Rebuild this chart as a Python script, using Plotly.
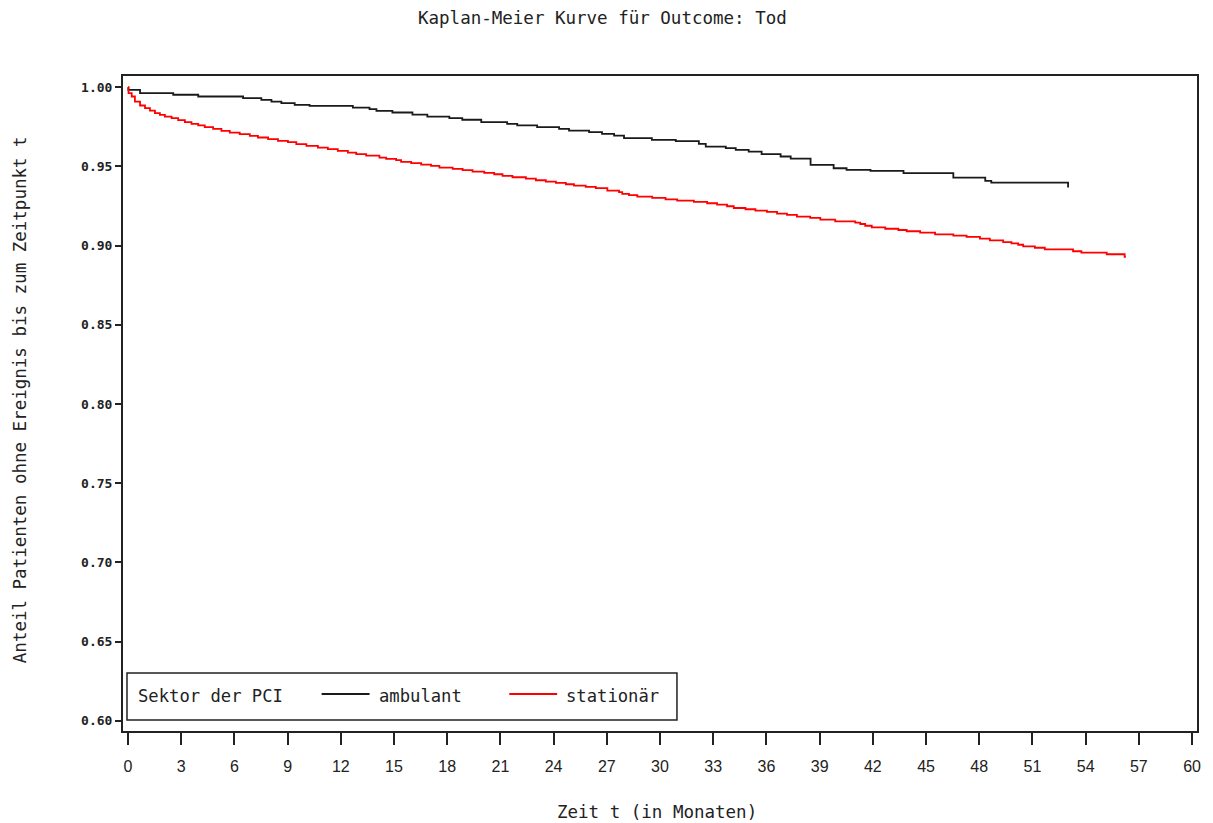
import plotly.graph_objects as go

# Kaplan-Meier step estimates: event times (months) and survival after each step
amb_t = [0.0, 0.02, 0.68, 2.55, 3.96, 6.49, 7.52, 8.09, 8.65, 9.40, 10.24, 12.68,
         13.62, 14.01, 14.91, 16.04, 16.88, 18.12, 18.85, 19.92, 21.38, 21.95,
         23.07, 24.31, 24.87, 26.00, 26.73, 27.41, 27.97, 29.54, 30.89, 32.19,
         32.58, 33.71, 34.27, 35.00, 35.73, 36.80, 37.37, 38.49, 39.79, 40.52,
         41.87, 43.73, 46.54, 48.34, 48.68, 53.01, 53.01]
amb_s = [1.0000, 0.9984, 0.9963, 0.9953, 0.9942, 0.9932, 0.9921, 0.9910, 0.9900,
         0.9889, 0.9883, 0.9872, 0.9862, 0.9851, 0.9841, 0.9828, 0.9815, 0.9805,
         0.9795, 0.9780, 0.9769, 0.9759, 0.9748, 0.9738, 0.9727, 0.9717, 0.9706,
         0.9695, 0.9679, 0.9668, 0.9660, 0.9643, 0.9626, 0.9616, 0.9605, 0.9594,
         0.9578, 0.9563, 0.9550, 0.9510, 0.9489, 0.9479, 0.9472, 0.9458, 0.9430,
         0.9409, 0.9398, 0.9398, 0.9367]

stat_t = [0.00, 0.03, 0.21, 0.39, 0.68, 0.96, 1.24, 1.52, 1.80, 2.08, 2.46, 2.83,
          3.21, 3.58, 3.96, 4.33, 4.80, 5.27, 5.74, 6.30, 6.87, 7.33, 7.90, 8.46,
          9.02, 9.49, 10.06, 10.71, 11.27, 11.83, 12.40, 12.87, 13.43, 14.18,
          14.56, 15.12, 15.40, 15.97, 16.53, 17.09, 17.56, 18.31, 18.87, 19.43,
          20.09, 20.65, 21.12, 21.68, 22.44, 23.00, 23.56, 24.13, 24.69, 25.15,
          25.81, 26.38, 27.03, 27.69, 27.87, 28.25, 28.72, 29.56, 30.31, 30.97,
          31.91, 32.66, 33.22, 33.78, 34.16, 34.82, 35.38, 36.03, 36.60, 37.16,
          37.72, 38.47, 39.04, 39.88, 41.01, 41.29, 41.57, 41.94, 42.70, 43.44,
          43.91, 44.67, 45.51, 46.54, 47.29, 48.04, 48.60, 49.35, 49.82, 50.20,
          50.48, 51.14, 51.70, 53.29, 53.76, 55.19, 56.20, 56.27]
stat_s = [1.0000, 0.9963, 0.9942, 0.9910, 0.9885, 0.9869, 0.9853, 0.9837, 0.9826,
          0.9815, 0.9805, 0.9793, 0.9780, 0.9769, 0.9759, 0.9748, 0.9738, 0.9725,
          0.9714, 0.9704, 0.9693, 0.9683, 0.9673, 0.9662, 0.9654, 0.9641, 0.9630,
          0.9619, 0.9609, 0.9599, 0.9588, 0.9578, 0.9569, 0.9556, 0.9548, 0.9540,
          0.9529, 0.9521, 0.9512, 0.9504, 0.9493, 0.9485, 0.9477, 0.9468, 0.9460,
          0.9451, 0.9441, 0.9432, 0.9424, 0.9413, 0.9405, 0.9396, 0.9388, 0.9379,
          0.9371, 0.9363, 0.9348, 0.9338, 0.9327, 0.9319, 0.9310, 0.9302, 0.9293,
          0.9284, 0.9276, 0.9268, 0.9259, 0.9249, 0.9238, 0.9230, 0.9221, 0.9213,
          0.9202, 0.9194, 0.9183, 0.9175, 0.9164, 0.9154, 0.9145, 0.9137, 0.9126,
          0.9116, 0.9107, 0.9099, 0.9091, 0.9082, 0.9072, 0.9063, 0.9055, 0.9044,
          0.9034, 0.9023, 0.9015, 0.9006, 0.8996, 0.8987, 0.8977, 0.8965, 0.8956,
          0.8946, 0.8930, 0.8930]

x_ticks = list(range(0, 61, 3))
y_ticks = [0.60, 0.65, 0.70, 0.75, 0.80, 0.85, 0.90, 0.95, 1.00]
y_ticktext = [f"{v:.2f}" for v in y_ticks]

legend_title = "Sektor der PCI"
group_names = ["ambulant", "stationär"]
group_colors = ["#1a1a1a", "#ff0000"]

MONO = "DejaVu Sans Mono"
INK = "#222222"

W, H = 1213, 823
ML, MR, MT, MB = 123, 14, 76, 92
PW, PH = W - ML - MR, H - MT - MB


def px(xp):
    return (xp - ML) / PW


def py(yp):
    return (H - MB - yp) / PH


fig = go.Figure()
for name, color, t, s in zip(group_names, group_colors, [amb_t, stat_t], [amb_s, stat_s]):
    fig.add_trace(go.Scatter(x=t, y=s, mode="lines", name=name, showlegend=False,
                             line=dict(color=color, width=1.8, shape="hv")))

# legend box with its keys, laid out in one row inside the plot frame
legend_shapes = [dict(type="rect", xref="paper", yref="paper",
                      x0=px(127), x1=px(678), y0=py(720), y1=py(673),
                      line=dict(color=INK, width=1.5), fillcolor="white")]
legend_notes = [dict(text=legend_title, xref="paper", yref="paper", x=px(136),
                     y=py(696), xanchor="left", yanchor="middle", showarrow=False,
                     font=dict(family=MONO, size=17.2, color=INK))]
key_x = [322, 510]
for name, color, kx in zip(group_names, group_colors, key_x):
    legend_shapes.append(dict(type="line", xref="paper", yref="paper",
                              x0=px(kx), x1=px(kx + 48), y0=py(694), y1=py(694),
                              line=dict(color=color, width=1.8)))
    legend_notes.append(dict(text=name, xref="paper", yref="paper", x=px(kx + 55),
                             y=py(696), xanchor="left", yanchor="middle",
                             showarrow=False,
                             font=dict(family=MONO, size=17.2, color=INK)))

fig.update_layout(
    width=W, height=H,
    margin=dict(l=ML, r=MR, t=MT, b=MB),
    paper_bgcolor="white", plot_bgcolor="white",
    showlegend=False,
    xaxis=dict(
        range=[-0.281, 60.28], tickvals=x_ticks, ticks="outside", ticklen=12,
        tickwidth=1.5, tickcolor=INK, showline=True, mirror=True, linecolor=INK,
        linewidth=2, showgrid=False, zeroline=False, ticklabelstandoff=8,
        tickfont=dict(family="Liberation Sans", size=16, color=INK),
    ),
    yaxis=dict(
        range=[0.5936, 1.00713], tickvals=y_ticks, ticktext=y_ticktext,
        ticks="outside", ticklen=6, tickwidth=1.5, tickcolor=INK, showline=True,
        mirror=True, linecolor=INK, linewidth=2, showgrid=False, zeroline=False,
        tickfont=dict(family=MONO, size=13, color=INK, weight="bold"),
    ),
    shapes=legend_shapes,
    annotations=legend_notes + [
        dict(text="Kaplan-Meier Kurve für Outcome: Tod", xref="paper", yref="paper",
             x=px(603), y=py(18), xanchor="center", yanchor="middle",
             showarrow=False, font=dict(family=MONO, size=17.5, color=INK)),
        dict(text="Zeit t (in Monaten)", xref="paper", yref="paper",
             x=px(658), y=py(812), xanchor="center", yanchor="middle",
             showarrow=False, font=dict(family=MONO, size=17.5, color=INK)),
        dict(text="Anteil Patienten ohne Ereignis bis zum Zeitpunkt t", xref="paper",
             yref="paper", x=px(20), y=py(400), xanchor="center", yanchor="middle",
             textangle=-90, showarrow=False,
             font=dict(family=MONO, size=17.5, color=INK)),
    ],
)

fig.write_html("out.html")
